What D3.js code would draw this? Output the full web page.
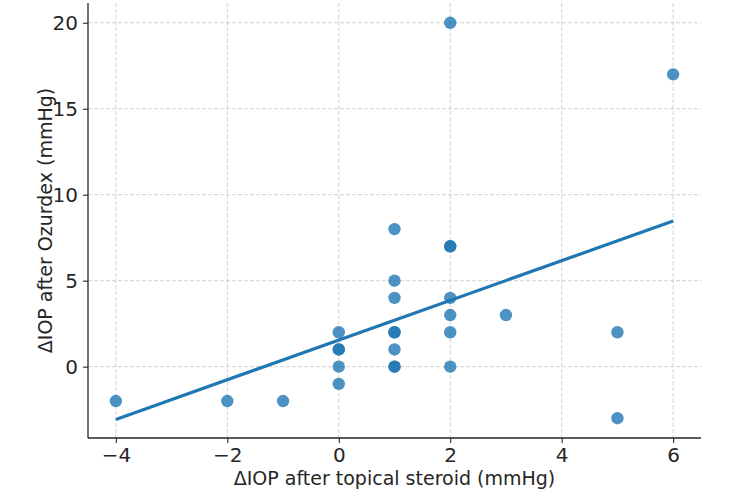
<!DOCTYPE html>
<html>
<head>
<meta charset="utf-8">
<script src="https://cdn.jsdelivr.net/npm/d3@7"></script>
<style>
  body { margin: 0; background: #fff; }
  text { font-family: "DejaVu Sans", sans-serif; fill: #262626; }
</style>
</head>
<body>
<div id="chart"></div>
<script>
// data: one entry per patient
var steroidIOP = [-4, -2, -1, 0, 0, 0, 0, 0, 1, 1, 1, 1, 1, 1, 1, 1, 2, 2, 2, 2, 2, 2, 2, 3, 5, 5, 6];
var ozurdexIOP = [-2, -2, -2, 2, 1, 1, 0, -1, 8, 5, 4, 2, 2, 1, 0, 0, 20, 7, 7, 4, 3, 2, 0, 3, 2, -3, 17];
var xTicks = [-4, -2, 0, 2, 4, 6];
var yTicks = [0, 5, 10, 15, 20];
var xLabel = "ΔIOP after topical steroid (mmHg)";
var yLabel = "ΔIOP after Ozurdex (mmHg)";

var W = 750, H = 493;
var margin = { top: 3, right: 49, bottom: 55, left: 88 };
var width = W - margin.left - margin.right;
var height = H - margin.top - margin.bottom;
var blue = "#1f77b4";

var svg = d3.select("#chart").append("svg")
  .attr("width", W)
  .attr("height", H)
  .append("g")
  .attr("transform", "translate(" + margin.left + "," + margin.top + ")");

var x = d3.scaleLinear().domain([-4.5, 6.5]).range([0, width]);
var y = d3.scaleLinear().domain([-4.15, 21.15]).range([height, 0]);

var fmt = function (d) { return d < 0 ? "\u2212" + Math.abs(d) : d; };

// grid
svg.append("g").selectAll("line").data(xTicks).enter().append("line")
  .attr("x1", function (d) { return x(d); }).attr("x2", function (d) { return x(d); })
  .attr("y1", 0).attr("y2", height)
  .attr("stroke", "#c8c8c8").attr("stroke-width", 0.8).attr("stroke-dasharray", "4,2");
svg.append("g").selectAll("line").data(yTicks).enter().append("line")
  .attr("y1", function (d) { return y(d); }).attr("y2", function (d) { return y(d); })
  .attr("x1", 0).attr("x2", width)
  .attr("stroke", "#c8c8c8").attr("stroke-width", 0.8).attr("stroke-dasharray", "4,2");

// points
var pts = steroidIOP.map(function (v, i) { return { x: v, y: ozurdexIOP[i] }; });
svg.append("g").selectAll("circle").data(pts).enter().append("circle")
  .attr("cx", function (d) { return x(d.x); })
  .attr("cy", function (d) { return y(d.y); })
  .attr("r", 6.2)
  .attr("fill", blue)
  .attr("fill-opacity", 0.8);

// least squares fit of the points
var mx = d3.mean(steroidIOP), my = d3.mean(ozurdexIOP);
var sxy = d3.sum(pts, function (d) { return (d.x - mx) * (d.y - my); });
var sxx = d3.sum(pts, function (d) { return (d.x - mx) * (d.x - mx); });
var slope = sxy / sxx, icpt = my - slope * mx;
var ext = d3.extent(steroidIOP);
svg.append("line")
  .attr("x1", x(ext[0])).attr("y1", y(icpt + slope * ext[0]))
  .attr("x2", x(ext[1])).attr("y2", y(icpt + slope * ext[1]))
  .attr("stroke", blue).attr("stroke-width", 3.2);

// axes
var xAxis = svg.append("g")
  .attr("transform", "translate(0," + height + ")")
  .call(d3.axisBottom(x).tickValues(xTicks).tickFormat(fmt).tickSize(5).tickPadding(5));
var yAxis = svg.append("g")
  .call(d3.axisLeft(y).tickValues(yTicks).tickFormat(fmt).tickSize(5).tickPadding(5));
[xAxis, yAxis].forEach(function (a) {
  a.select(".domain").attr("stroke", "#262626").attr("stroke-width", 1.3);
  a.selectAll(".tick line").attr("stroke", "#262626").attr("stroke-width", 1.1);
  a.selectAll("text").style("font-size", "20px").attr("fill", "#262626");
});
xAxis.select(".domain").attr("d", "M0,0H" + width);
yAxis.select(".domain").attr("d", "M0," + height + "V0");

// labels
svg.append("text")
  .attr("x", width / 2).attr("y", height + 47)
  .attr("text-anchor", "middle")
  .style("font-size", "19px")
  .text(xLabel);
svg.append("text")
  .attr("transform", "translate(-43," + (height / 2) + ") rotate(-90)")
  .attr("text-anchor", "middle")
  .attr("dy", "0.35em")
  .style("font-size", "19px")
  .text(yLabel);
</script>
</body>
</html>
